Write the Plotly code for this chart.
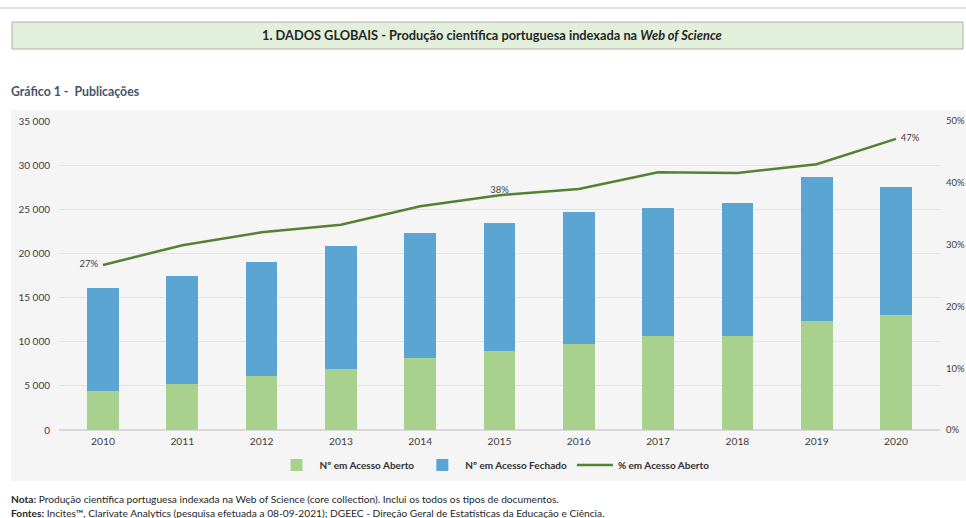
import plotly.graph_objects as go

years = ["2010", "2011", "2012", "2013", "2014", "2015", "2016", "2017", "2018", "2019", "2020"]
aberto = [4400, 5200, 6100, 6900, 8100, 9000, 9700, 10600, 10700, 12400, 13000]
fechado_total = [16100, 17400, 19000, 20800, 22300, 23500, 24700, 25200, 25700, 28700, 27500]
fechado = [t - a for t, a in zip(fechado_total, aberto)]
pct = [26.7, 29.9, 32.0, 33.2, 36.2, 38.0, 39.0, 41.7, 41.6, 43.0, 47.1]
pct_labels = ["27%  ", "", "", "", "", "38%", "", "", "", "", "  47%"]
pct_pos = ["middle left", "top center", "top center", "top center", "top center", "top center",
           "top center", "top center", "top center", "top center", "middle right"]
series_names = ["Nº em Acesso Aberto", "Nº em Acesso Fechado", "% em Acesso Aberto"]

W, H = 966, 518
L, R, T, B = 59, 940, 121, 430
FONT = "Lato"
TXT = "#404040"

def px(x):
    return (x - L) / (R - L)

def py(y):
    return (B - y) / (B - T)

fig = go.Figure()
fig.add_trace(go.Bar(x=years, y=aberto, name="<b>" + series_names[0] + "</b>", marker_color="#a9d18e",
                     marker_line_width=0))
fig.add_trace(go.Bar(x=years, y=fechado, name="<b>" + series_names[1] + "</b>", marker_color="#5ba5d3",
                     marker_line_width=0))
fig.add_trace(go.Scatter(x=years, y=pct, name="<b>" + series_names[2] + "</b>", yaxis="y2",
                         mode="lines+text",
                         line=dict(color="#548235", width=2.5), text=pct_labels,
                         textposition=pct_pos, textfont=dict(size=9.5, color=TXT, family=FONT)))

shapes = [
    dict(type="line", xref="paper", yref="paper", x0=px(0), x1=px(966), y0=py(8), y1=py(8),
         line=dict(color="#b4c6d8", width=1)),
    dict(type="rect", xref="paper", yref="paper", x0=px(12), x1=px(963), y0=py(49), y1=py(22),
         fillcolor="#e2efda", line=dict(color="#b0b0b0", width=1), layer="below"),
    dict(type="rect", xref="paper", yref="paper", x0=px(11), x1=px(970), y0=py(481), y1=py(110),
         fillcolor="#f5f5f5", line=dict(width=0), layer="below"),
]

annotations = [
    dict(xref="paper", yref="paper", x=px(492), y=py(35), xanchor="center", yanchor="middle",
         showarrow=False, text="<b>1. DADOS GLOBAIS - Produção científica portuguesa indexada na <i>Web of Science</i></b>",
         font=dict(family=FONT, size=12.8, color="#262626")),
    dict(xref="paper", yref="paper", x=px(9), y=py(91), xanchor="left", yanchor="middle",
         showarrow=False, text="<b>Gráfico 1 -  Publicações</b>",
         font=dict(family=FONT, size=12.3, color="#44546a")),
    dict(xref="paper", yref="paper", x=px(9), y=py(499), xanchor="left", yanchor="middle",
         showarrow=False,
         text="<b>Nota:</b> Produção científica portuguesa indexada na Web of Science (core collection). Inclui os todos os tipos de documentos.",
         font=dict(family=FONT, size=10.2, color="#262626")),
    dict(xref="paper", yref="paper", x=px(9), y=py(513), xanchor="left", yanchor="middle",
         showarrow=False,
         text="<b>Fontes:</b> Incites™, Clarivate Analytics (pesquisa efetuada a 08-09-2021); DGEEC - Direção Geral de Estatísticas da Educação e Ciência.",
         font=dict(family=FONT, size=10.2, color="#262626")),
]

fig.update_layout(
    width=W, height=H,
    margin=dict(l=L, r=W - R, t=T, b=H - B, pad=0, autoexpand=False),
    paper_bgcolor="white", plot_bgcolor="rgba(0,0,0,0)",
    barmode="stack", bargap=0.6,
    separators=". ",
    font=dict(family=FONT, size=9, color=TXT),
    showlegend=True,
    legend=dict(orientation="h", x=px(494), xanchor="center", y=py(465), yanchor="middle",
                font=dict(family=FONT, size=10, color="#303030"), bgcolor="rgba(0,0,0,0)",
                itemwidth=36, traceorder="normal"),
    xaxis=dict(showgrid=False, showline=False, ticks="", tickfont=dict(size=10.3, color=TXT),
               ticklabelstandoff=4, automargin=False),
    yaxis=dict(range=[0, 35000], dtick=5000, tickformat=",d", showgrid=True, gridcolor="#e4e4e4",
               gridwidth=1, zeroline=True, zerolinecolor="#d9d9d9", showline=False,
               tickfont=dict(size=10, color=TXT), ticklabelstandoff=8, automargin=False),
    yaxis2=dict(range=[0, 50], dtick=10, ticksuffix="%", overlaying="y", side="right",
                showgrid=False, zeroline=False, showline=False,
                tickfont=dict(size=9.5, color=TXT), ticklabelstandoff=5, automargin=False),
    shapes=shapes, annotations=annotations,
)

fig.write_html("out.html", config={"displayModeBar": False},
               post_script="document.body.style.margin='0px';document.body.style.overflow='hidden';")
